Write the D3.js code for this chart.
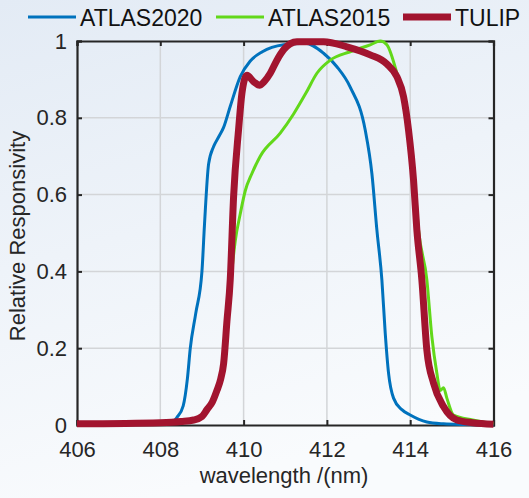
<!DOCTYPE html>
<html><head><meta charset="utf-8">
<script src="https://cdn.jsdelivr.net/npm/d3@7"></script>
<style>body{margin:0;}svg{display:block;font-family:"Liberation Sans",Arial,sans-serif;}</style>
</head><body><svg id="c" width="529" height="498"></svg>
<script>
const xTicks=[406,408,410,412,414,416];
const yTicks=[0,0.2,0.4,0.6,0.8,1];
const yTickLabels=["0","0.2","0.4","0.6","0.8","1"];
const seriesNames=["ATLAS2020","ATLAS2015","TULIP"];
const atlas2020=[[406,0.002],[408,0.004],[408.3,0.008],[408.4,0.02],[408.55,0.05],[408.65,0.12],[408.72,0.2],[408.85,0.29],[409.0,0.4],[409.06,0.52],[409.16,0.68],[409.28,0.725],[409.4,0.75],[409.52,0.775],[409.68,0.83],[409.92,0.907],[410.16,0.948],[410.45,0.972],[410.96,0.99],[411.48,0.994],[411.92,0.968],[412.24,0.933],[412.56,0.88],[412.92,0.768],[413.08,0.655],[413.2,0.508],[413.32,0.378],[413.4,0.24],[413.48,0.135],[413.6,0.07],[413.8,0.04],[414.0,0.026],[414.4,0.008],[414.8,0.003],[415.3,0.001],[416,0.0]];
const atlas2015=[[406,0.003],[408,0.005],[408.8,0.012],[409.12,0.04],[409.36,0.09],[409.52,0.17],[409.62,0.28],[409.7,0.38],[409.8,0.48],[409.92,0.55],[410.04,0.61],[410.2,0.655],[410.4,0.70],[410.88,0.76],[411.2,0.81],[411.5,0.865],[411.76,0.916],[412.08,0.95],[412.56,0.972],[413.04,0.99],[413.28,1.0],[413.44,0.99],[413.68,0.916],[413.86,0.84],[413.98,0.77],[414.1,0.64],[414.2,0.508],[414.4,0.378],[414.52,0.23],[414.64,0.135],[414.72,0.09],[414.8,0.097],[414.88,0.07],[415.04,0.026],[415.5,0.013],[416,0.003]];
const tulip=[[406,0.003],[408,0.006],[408.5,0.009],[408.8,0.013],[409.0,0.022],[409.12,0.04],[409.25,0.06],[409.36,0.09],[409.45,0.12],[409.52,0.16],[409.6,0.27],[409.68,0.38],[409.76,0.595],[409.88,0.77],[409.96,0.864],[410.08,0.911],[410.24,0.894],[410.38,0.885],[410.5,0.895],[410.64,0.916],[410.8,0.95],[410.96,0.977],[411.28,0.998],[411.92,0.998],[412.48,0.985],[413.04,0.964],[413.44,0.94],[413.68,0.907],[413.84,0.855],[413.96,0.768],[414.08,0.638],[414.16,0.508],[414.28,0.378],[414.4,0.195],[414.56,0.109],[414.8,0.048],[415.12,0.013],[415.5,0.006],[416,0.002]];
const colors=["#0072BD","#62D81A","#A2142F"];
const widths=[3,3,7];

const svg=d3.select("#c");
const defs=svg.append("defs");
const g0=defs.append("linearGradient").attr("id","bg").attr("x1","0").attr("y1","0").attr("x2","0.3").attr("y2","1");
g0.append("stop").attr("offset","0").attr("stop-color","#e3ebf5");
g0.append("stop").attr("offset","1").attr("stop-color","#f9fbfd");
svg.append("rect").attr("width",529).attr("height",498).attr("fill","url(#bg)");

const L=77,R=493.5,T=41,B=425;
const x=d3.scaleLinear().domain([406,416]).range([L,R]);
const y=d3.scaleLinear().domain([0,1]).range([B,T]);

// grid
const grid=svg.append("g");
grid.selectAll("line.gx").data(xTicks.slice(1,-1)).join("line")
 .attr("x1",d=>x(d)).attr("x2",d=>x(d)).attr("y1",T).attr("y2",B)
 .attr("stroke","#d3d5d8").attr("stroke-width",1.5);
grid.selectAll("line.gy").data(yTicks.slice(1,-1)).join("line")
 .attr("y1",d=>y(d)).attr("y2",d=>y(d)).attr("x1",L).attr("x2",R)
 .attr("stroke","#d3d5d8").attr("stroke-width",1.5);

// axes
const tc="#262626";
const xAx=svg.append("g").attr("transform",`translate(0,${B})`)
 .call(d3.axisBottom(x).tickValues(xTicks).tickSize(-5).tickPadding(16).tickFormat(d3.format("d")));
const xTop=svg.append("g").attr("transform",`translate(0,${T})`)
 .call(d3.axisTop(x).tickValues(xTicks).tickSize(-5).tickFormat(""));
const yAx=svg.append("g").attr("transform",`translate(${L},0)`)
 .call(d3.axisLeft(y).tickValues(yTicks).tickSize(-5).tickPadding(10).tickFormat((d,i)=>yTickLabels[i]));
const yR=svg.append("g").attr("transform",`translate(${R},0)`)
 .call(d3.axisRight(y).tickValues(yTicks).tickSize(-5).tickFormat(""));
[xAx,xTop,yAx,yR].forEach(a=>{
 a.select(".domain").attr("stroke",tc).attr("stroke-width",2.2);
 a.selectAll(".tick line").attr("stroke",tc).attr("stroke-width",2);
 a.selectAll("text").attr("fill",tc).style("font-size","22px").style("font-family","'Liberation Sans',Arial,sans-serif");
});

// lines
const line=d3.line().x(d=>x(d[0])).y(d=>y(d[1])).curve(d3.curveMonotoneX);
defs.append("clipPath").attr("id","cp").append("rect").attr("x",L-4).attr("y",T-6).attr("width",R-L+8).attr("height",B-T+10);
const series=[atlas2020,atlas2015,tulip];
const lg=svg.append("g").attr("clip-path","url(#cp)");
series.forEach((s,i)=>{
 lg.append("path").datum(s).attr("d",line).attr("fill","none")
  .attr("stroke",colors[i]).attr("stroke-width",widths[i]).attr("stroke-linejoin","round").attr("stroke-linecap","butt");
});

// axis titles
svg.append("text").attr("x",284).attr("y",483).attr("text-anchor","middle").attr("fill",tc)
 .style("font-size","22px").text("wavelength /(nm)");
svg.append("text").attr("transform","translate(25,236) rotate(-90)").attr("text-anchor","middle").attr("fill",tc)
 .style("font-size","22px").text("Relative Responsivity");

// legend
const legX=[28,216,403];
const leg=svg.append("g");
seriesNames.forEach((n,i)=>{
 leg.append("line").attr("x1",legX[i]).attr("x2",legX[i]+48).attr("y1",17).attr("y2",17)
  .attr("stroke",colors[i]).attr("stroke-width",widths[i]);
 leg.append("text").attr("x",legX[i]+52).attr("y",26).attr("fill","#111").style("font-size","23px").text(n);
});
</script></body></html>
